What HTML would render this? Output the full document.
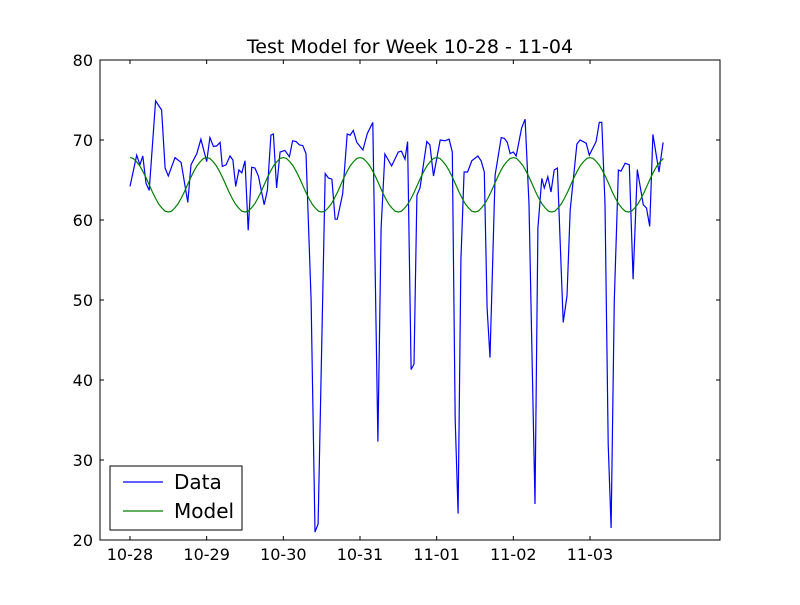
<!DOCTYPE html>
<html><head><meta charset="utf-8"><style>
body{margin:0;background:#fff;}
svg text{font-family:"DejaVu Sans","Liberation Sans",sans-serif;}
</style></head><body>
<svg id="chart" width="800" height="600" xmlns="http://www.w3.org/2000/svg">
<rect width="800" height="600" fill="#fff"/>
<text x="410" y="53" font-size="19" text-anchor="middle">Test Model for Week 10-28 - 11-04</text>
<g id="marks"></g>
<g id="axes"></g>
<rect x="100" y="60" width="620" height="480" fill="none" stroke="#000" stroke-width="1"/>
<g>
<rect x="110" y="466" width="132" height="64" fill="#fff" stroke="#000" stroke-width="1"/>
<line x1="123" y1="482" x2="163" y2="482" stroke="#0000ff" stroke-width="1.2"/>
<text x="174" y="489" font-size="20">Data</text>
<line x1="123" y1="511" x2="163" y2="511" stroke="#008000" stroke-width="1.2"/>
<text x="174" y="518" font-size="20">Model</text>
</g>
</svg>
<script>
const dataHours=[0,2.1,3.1,4.0,5.0,6.0,8.0,9.9,11.0,12.0,14.1,16.0,18.1,19.1,20.9,22.2,24.0,25.0,26.1,27.1,28.2,28.9,30.1,31.3,32.2,33.1,34.1,35.0,36.0,37.0,38.1,39.1,40.2,42.0,43.0,44.1,44.9,45.9,47.0,48.5,49.9,50.9,52.0,53.0,54.1,55.1,56.7,57.9,58.9,61.1,62.1,63.2,64.2,64.9,66.6,68.0,68.9,69.9,71.0,72.9,74.3,76.0,77.6,78.6,79.8,81.9,84.0,85.0,86.1,86.9,88.0,88.9,89.8,90.8,92.9,93.9,95.0,97.1,98.6,99.9,100.9,101.8,102.7,103.6,104.6,105.7,107.0,108.9,109.9,110.9,111.8,112.7,114.3,116.2,117.2,118.1,119.0,120.0,120.9,122.6,123.7,124.9,126.8,127.7,128.9,129.7,130.8,131.8,132.8,133.8,135.6,136.8,137.8,139.9,140.9,142.8,143.8,145.9,146.9,147.7,148.7,149.7,150.6,151.6,152.9,153.7,155.0,156.3,157.5,158.8,160.7,161.7,162.7,163.7,165.6,166.9];
const dataValues=[64.2,68.1,66.9,68.0,64.6,63.7,74.9,73.75,66.5,65.5,67.8,67.2,62.2,66.9,68.3,70.1,67.3,70.3,69.2,69.25,69.7,66.7,66.9,68.0,67.5,64.2,66.25,65.9,67.4,58.7,66.6,66.5,65.5,61.9,63.75,70.6,70.75,64.0,68.5,68.7,67.9,69.9,69.8,69.4,69.3,68.3,50,21,22,65.8,65.25,65.1,60.1,60.1,63.3,70.75,70.6,71.2,69.7,68.75,70.8,72.2,32.3,59,68.25,66.75,68.5,68.6,67.6,69.8,41.3,42,63.1,64.0,69.8,69.4,65.5,70.0,69.9,70.1,68.5,35,23.3,55,66.0,66.0,67.4,68.0,67.4,66.0,49,42.8,65.6,70.3,70.2,69.7,68.3,68.5,68.0,71.5,72.6,62,24.5,59,65.2,64.0,65.4,63.5,66.25,66.5,47.2,50.5,61.25,69.5,70.0,69.6,68.1,69.8,72.2,72.2,62,32,21.5,50,66.25,66.1,67.1,66.9,52.6,66.3,61.9,61.5,59.2,70.7,66.0,69.7];
const modelValues=[
67.8,67.7,67.3,66.8,66.1,65.3,64.4,63.5,62.7,62.0,61.5,61.1,61.0,61.1,61.5,62.0,62.7,63.5,64.4,65.3,66.1,66.8,67.3,67.7,
67.8,67.7,67.3,66.8,66.1,65.3,64.4,63.5,62.7,62.0,61.5,61.1,61.0,61.1,61.5,62.0,62.7,63.5,64.4,65.3,66.1,66.8,67.3,67.7,
67.8,67.7,67.3,66.8,66.1,65.3,64.4,63.5,62.7,62.0,61.5,61.1,61.0,61.1,61.5,62.0,62.7,63.5,64.4,65.3,66.1,66.8,67.3,67.7,
67.8,67.7,67.3,66.8,66.1,65.3,64.4,63.5,62.7,62.0,61.5,61.1,61.0,61.1,61.5,62.0,62.7,63.5,64.4,65.3,66.1,66.8,67.3,67.7,
67.8,67.7,67.3,66.8,66.1,65.3,64.4,63.5,62.7,62.0,61.5,61.1,61.0,61.1,61.5,62.0,62.7,63.5,64.4,65.3,66.1,66.8,67.3,67.7,
67.8,67.7,67.3,66.8,66.1,65.3,64.4,63.5,62.7,62.0,61.5,61.1,61.0,61.1,61.5,62.0,62.7,63.5,64.4,65.3,66.1,66.8,67.3,67.7,
67.8,67.7,67.3,66.8,66.1,65.3,64.4,63.5,62.7,62.0,61.5,61.1,61.0,61.1,61.5,62.0,62.7,63.5,64.4,65.3,66.1,66.8,67.3,67.7];
const xTickHours=[0,24,48,72,96,120,144];
const xTickLabels=["10-28","10-29","10-30","10-31","11-01","11-02","11-03"];
const yTicks=[20,30,40,50,60,70,80];

const X0=100,X1=720,Y0=60,Y1=540;
const xMin=-9.39,xMax=184.7,yMin=20,yMax=80;
const xs=h=>X0+(h-xMin)/(xMax-xMin)*(X1-X0);
const ys=v=>Y1-(v-yMin)/(yMax-yMin)*(Y1-Y0);
const NS="http://www.w3.org/2000/svg";
const marks=document.getElementById('marks'),axes=document.getElementById('axes');

const dPts=dataHours.map((h,i)=>xs(h).toFixed(1)+","+ys(dataValues[i]).toFixed(1)).join(" ");
const dl=document.createElementNS(NS,'polyline');
dl.setAttribute('points',dPts);dl.setAttribute('fill','none');dl.setAttribute('stroke','#0000ff');dl.setAttribute('stroke-width','1.2');


marks.appendChild(dl);

const mPts=modelValues.map((v,i)=>xs(i).toFixed(1)+","+ys(v).toFixed(1)).join(" ");
const ml=document.createElementNS(NS,'polyline');
ml.setAttribute('points',mPts);ml.setAttribute('fill','none');ml.setAttribute('stroke','#008000');ml.setAttribute('stroke-width','1.2');


marks.appendChild(ml);

xTickHours.forEach((h,i)=>{
  const x=xs(h);
  [[Y1,Y1-4],[Y0,Y0+4]].forEach(([a,b])=>{
    const t=document.createElementNS(NS,'line');
    t.setAttribute('x1',x);t.setAttribute('x2',x);t.setAttribute('y1',a);t.setAttribute('y2',b);t.setAttribute('stroke','#000');
    
    
    axes.appendChild(t);
  });
  const tx=document.createElementNS(NS,'text');
  tx.setAttribute('x',x);tx.setAttribute('y',560);tx.setAttribute('text-anchor','middle');tx.setAttribute('font-size','16');
  tx.textContent=xTickLabels[i];
  
  
  axes.appendChild(tx);
});
yTicks.forEach(v=>{
  const y=ys(v);
  [[X0,X0+4],[X1,X1-4]].forEach(([a,b])=>{
    const t=document.createElementNS(NS,'line');
    t.setAttribute('x1',a);t.setAttribute('x2',b);t.setAttribute('y1',y);t.setAttribute('y2',y);t.setAttribute('stroke','#000');
    
    
    axes.appendChild(t);
  });
  const tx=document.createElementNS(NS,'text');
  tx.setAttribute('x',93);tx.setAttribute('y',y+6);tx.setAttribute('text-anchor','end');tx.setAttribute('font-size','16');
  tx.textContent=v;
  
  
  axes.appendChild(tx);
});
</script>
</body></html>
